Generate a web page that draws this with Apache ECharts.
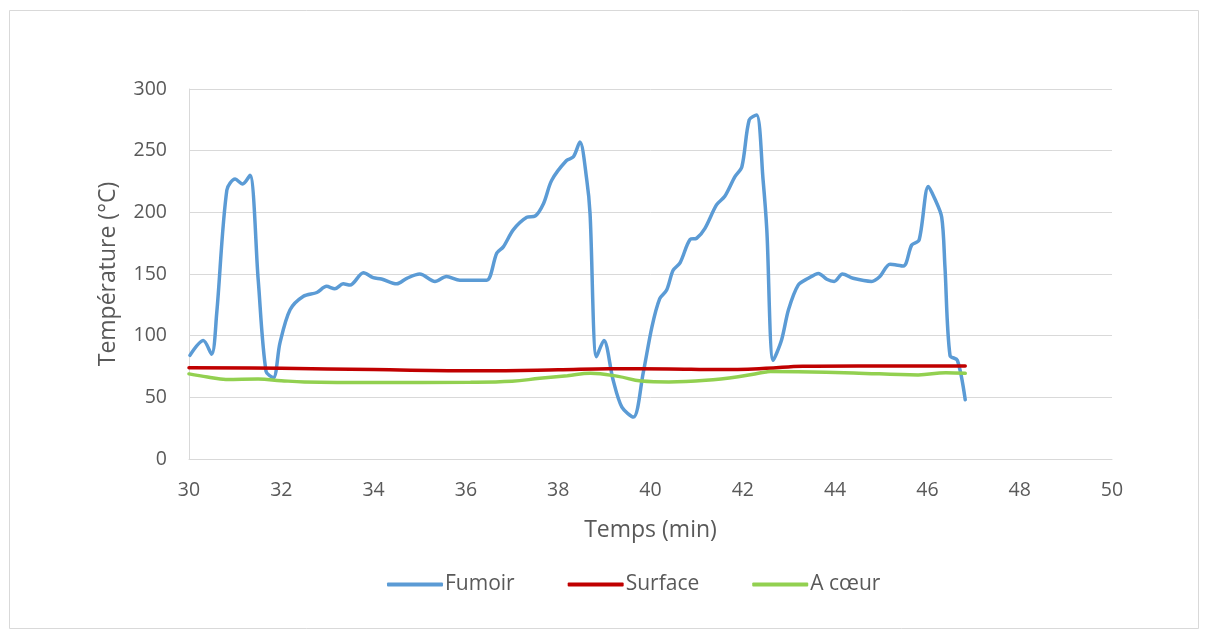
<!DOCTYPE html>
<html><head><meta charset="utf-8">
<script src="https://cdn.jsdelivr.net/npm/echarts@6/dist/echarts.min.js"></script>
<style>html,body{margin:0;padding:0;background:#fff}#c{width:1208px;height:638px}</style>
</head><body><div id="c"></div>
<script>
const fumoirX = [30.02,30.31,30.49,30.6,30.82,31.0,31.16,31.32,31.5,31.67,31.83,31.97,32.19,32.48,32.77,32.98,33.16,33.34,33.49,33.78,33.99,34.17,34.5,34.72,35.0,35.33,35.58,35.87,36.1,36.45,36.67,36.81,37.03,37.32,37.5,37.68,37.86,38.18,38.33,38.47,38.62,38.69,38.83,38.99,39.19,39.38,39.63,39.84,40.03,40.2,40.35,40.49,40.64,40.86,41.0,41.18,41.43,41.61,41.83,41.98,42.14,42.3,42.44,42.52,42.66,42.84,42.99,43.2,43.42,43.64,43.82,43.98,44.16,44.39,44.79,44.97,45.19,45.48,45.66,45.82,46.02,46.16,46.31,46.38,46.49,46.65,46.82];
const fumoirY = [84,96,85,118,218,227,223,230,145,71,66,94,121,132,135,140,138,142,141,151,147,146,142,146.5,150,144,148,145,145,145,167,172,186,196,197,207,226,242,245,257,226,199,83,96,64,42,34,69.5,107,130,137,153,159,178,179,187,206,213,229,237,275,279,226,186,80,96.5,121,141,146.5,150.5,145.7,144,150,146.5,144,148,158,156.5,173.5,177.5,221,211,196,156,84,80,48];
const surfaceX = [30,32,34,36.3,38,39.1,40.4,41.5,42.5,43.3,44.5,45.5,46.82];
const surfaceY = [74,73.5,72.5,71.5,72.3,73.2,73,72.5,73.5,75.2,75.5,75.5,75.4];
const coeurX = [30,30.4,30.8,31.5,32,32.5,34,36.1,37,37.6,38.2,38.7,39.3,39.8,40.4,41.2,41.9,42.5,42.6,43.2,44.4,45.8,46.4,46.82];
const coeurY = [69,66.5,64.5,64.8,63.5,62.5,62,62.2,63,65.4,67.5,69.5,67,63.2,62.5,63.8,66.7,70.5,71,70.8,69.8,68.2,70,69.5];
const xTicks = {min:30,max:50,interval:2};
const yTicks = {min:0,max:300,interval:50};

const pairs = (xs, ys) => xs.map((x,i)=>[x, ys[i]]);
const chart = echarts.init(document.getElementById('c'));
const txt = '#595959';
const font = '"Open Sans", "Liberation Sans", sans-serif';
chart.setOption({
  animation:false,
  backgroundColor:'#fff',
  graphic:[{type:'rect',shape:{x:9.5,y:10.5,width:1189,height:618},style:{fill:'none',stroke:'#d9d9d9',lineWidth:1}}],
  grid:{left:189,right:96,top:89,bottom:179},
  xAxis:{type:'value',min:xTicks.min,max:xTicks.max,interval:xTicks.interval,
    name:'Temps (min)',nameLocation:'middle',nameGap:60,
    nameTextStyle:{color:txt,fontSize:23,fontFamily:font},
    axisLine:{lineStyle:{color:'#d9d9d9',width:1}},axisTick:{show:false},
    axisLabel:{color:txt,fontSize:19.5,fontFamily:font,margin:21},
    splitLine:{show:false}},
  yAxis:{type:'value',min:yTicks.min,max:yTicks.max,interval:yTicks.interval,
    name:'Température (°C)',nameLocation:'middle',nameGap:69,nameRotate:90,
    nameTextStyle:{color:txt,fontSize:23,fontFamily:font},
    axisLine:{show:true,lineStyle:{color:'#d9d9d9',width:1}},axisTick:{show:false},
    axisLabel:{color:txt,fontSize:19.5,fontFamily:font,margin:22},
    splitLine:{lineStyle:{color:'#d9d9d9',width:1}}},
  legend:{bottom:43,left:387,padding:0,itemGap:53,itemWidth:56,itemHeight:4,icon:'roundRect',
    textStyle:{color:txt,fontSize:21,fontFamily:font,padding:[0,0,0,-3]},
    data:['Fumoir','Surface','A cœur']},
  series:[
    {name:'Fumoir',type:'line',data:pairs(fumoirX,fumoirY),smooth:0.3,showSymbol:false,
      lineStyle:{color:'#5b9bd5',width:3.5,cap:'round',join:'round'},itemStyle:{color:'#5b9bd5'}},
    {name:'Surface',type:'line',data:pairs(surfaceX,surfaceY),smooth:0.4,showSymbol:false,
      lineStyle:{color:'#c00000',width:3.5,cap:'round'},itemStyle:{color:'#c00000'}},
    {name:'A cœur',type:'line',data:pairs(coeurX,coeurY),smooth:0.4,showSymbol:false,
      lineStyle:{color:'#92d050',width:3.5,cap:'round'},itemStyle:{color:'#92d050'}}
  ]
});
</script></body></html>
